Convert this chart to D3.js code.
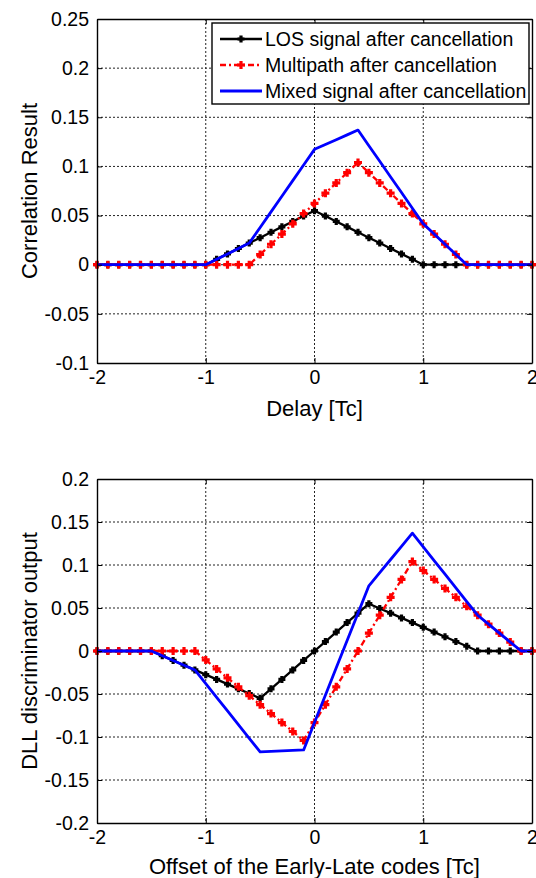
<!DOCTYPE html>
<html>
<head>
<meta charset="utf-8">
<script src="https://cdn.jsdelivr.net/npm/d3@7"></script>
<style>
  body { margin: 0; background: #fff; }
  svg { display: block; font-family: "Liberation Sans", Arial, sans-serif; }
</style>
</head>
<body>
<svg id="chart" width="536" height="878"></svg>
<script>
// delay / offset axis, in chips
const offsets = [-2, -1.9, -1.8, -1.7, -1.6, -1.5, -1.4, -1.3, -1.2, -1.1,
  -1, -0.9, -0.8, -0.7, -0.6, -0.5, -0.4, -0.3, -0.2, -0.1,
  0, 0.1, 0.2, 0.3, 0.4, 0.5, 0.6, 0.7, 0.8, 0.9,
  1, 1.1, 1.2, 1.3, 1.4, 1.5, 1.6, 1.7, 1.8, 1.9, 2];

// top panel: correlation results
const corrLos = [0, 0, 0, 0, 0, 0, 0, 0, 0, 0,
  0, 0.0055, 0.011, 0.0165, 0.022, 0.0275, 0.033, 0.0385, 0.044, 0.0495,
  0.055, 0.0495, 0.044, 0.0385, 0.033, 0.0275, 0.022, 0.0165, 0.011, 0.0055,
  0, 0, 0, 0, 0, 0, 0, 0, 0, 0, 0];
const corrMulti = [0, 0, 0, 0, 0, 0, 0, 0, 0, 0,
  0, 0, 0, 0, 0, 0.0104, 0.0208, 0.0312, 0.0416, 0.052,
  0.0624, 0.0728, 0.0832, 0.0936, 0.104, 0.0936, 0.0832, 0.0728, 0.0624, 0.052,
  0.0416, 0.0312, 0.0208, 0.0104, 0, 0, 0, 0, 0, 0, 0];
const corrMixed = [0, 0, 0, 0, 0, 0, 0, 0, 0, 0,
  0, 0.0055, 0.011, 0.0165, 0.022, 0.0379, 0.0538, 0.0697, 0.0856, 0.1015,
  0.1174, 0.1223, 0.1272, 0.1321, 0.137, 0.1211, 0.1052, 0.0893, 0.0734, 0.0575,
  0.0416, 0.0312, 0.0208, 0.0104, 0, 0, 0, 0, 0, 0, 0];

// bottom panel: DLL discriminator output
const dllLos = [0, 0, 0, 0, 0, 0, -0.0055, -0.011, -0.0165, -0.022,
  -0.0275, -0.033, -0.0385, -0.044, -0.0495, -0.055, -0.044, -0.033, -0.022, -0.011,
  0, 0.011, 0.022, 0.033, 0.044, 0.055, 0.0495, 0.044, 0.0385, 0.033,
  0.0275, 0.022, 0.0165, 0.011, 0.0055, 0, 0, 0, 0, 0, 0];
const dllMulti = [0, 0, 0, 0, 0, 0, 0, 0, 0, 0,
  -0.0104, -0.0208, -0.0312, -0.0416, -0.052, -0.0624, -0.0728, -0.0832, -0.0936, -0.104,
  -0.0832, -0.0624, -0.0416, -0.0208, 0, 0.0208, 0.0416, 0.0624, 0.0832, 0.104,
  0.0936, 0.0832, 0.0728, 0.0624, 0.052, 0.0416, 0.0312, 0.0208, 0.0104, 0, 0];
const dllMixed = [0, 0, 0, 0, 0, 0, -0.0055, -0.011, -0.0165, -0.022,
  -0.0379, -0.0538, -0.0697, -0.0856, -0.1015, -0.1174, -0.1168, -0.1162, -0.1156, -0.115,
  -0.0832, -0.0514, -0.0196, 0.0122, 0.044, 0.0758, 0.0911, 0.1064, 0.1217, 0.137,
  0.1211, 0.1052, 0.0893, 0.0734, 0.0575, 0.0416, 0.0312, 0.0208, 0.0104, 0, 0];

const xTicks = [-2, -1, 0, 1, 2];
const xTickLabels = ['-2', '-1', '0', '1', '2'];
const corrTicks = [-0.1, -0.05, 0, 0.05, 0.1, 0.15, 0.2, 0.25];
const corrTickLabels = ['-0.1', '-0.05', '0', '0.05', '0.1', '0.15', '0.2', '0.25'];
const dllTicks = [-0.2, -0.15, -0.1, -0.05, 0, 0.05, 0.1, 0.15, 0.2];
const dllTickLabels = ['-0.2', '-0.15', '-0.1', '-0.05', '0', '0.05', '0.1', '0.15', '0.2'];

const legendLabels = ['LOS signal after cancellation', 'Multipath after cancellation', 'Mixed signal after cancellation'];

const svg = d3.select('#chart');

const seriesStyle = [
  { color: '#000', width: 2.3, dash: null, marker: 3.5 },
  { color: '#ff0000', width: 2.3, dash: '6,3,2,3', marker: 4 },
  { color: '#0000ff', width: 2.8, dash: null, marker: 0 }
];

function plusPath(r) {
  return `M${-r},0H${r}M0,${-r}V${r}`;
}

function drawPanel(opt) {
  const { left, right, top, bottom } = opt;
  const x = d3.scaleLinear().domain([-2, 2]).range([left, right]);
  const y = d3.scaleLinear().domain(opt.yDomain).range([bottom, top]);
  const g = svg.append('g');

  // dotted grid
  g.append('g').selectAll('line')
    .data(xTicks.slice(1, -1))
    .join('line')
    .attr('x1', d => x(d)).attr('x2', d => x(d))
    .attr('y1', top).attr('y2', bottom)
    .attr('stroke', '#222').attr('stroke-width', 1)
    .attr('stroke-dasharray', '2,2');
  g.append('g').selectAll('line')
    .data(opt.yTicks.slice(1, -1))
    .join('line')
    .attr('x1', left).attr('x2', right)
    .attr('y1', d => y(d)).attr('y2', d => y(d))
    .attr('stroke', '#222').attr('stroke-width', 1)
    .attr('stroke-dasharray', '2,2');

  // series
  const line = d3.line().x((d, i) => x(offsets[i])).y(d => y(d));
  opt.series.forEach((vals, k) => {
    const st = seriesStyle[k];
    g.append('path')
      .datum(vals)
      .attr('d', line)
      .attr('fill', 'none')
      .attr('stroke', st.color)
      .attr('stroke-width', st.width)
      .attr('stroke-linejoin', 'round')
      .attr('stroke-dasharray', st.dash);
    if (st.marker) {
      g.append('g').selectAll('path')
        .data(vals)
        .join('path')
        .attr('transform', (d, i) => `translate(${x(offsets[i])},${y(d)})`)
        .attr('d', plusPath(st.marker))
        .attr('stroke', st.color)
        .attr('stroke-width', 3.2);
    }
  });

  // axes box and ticks
  const axB = d3.axisBottom(x).tickValues(xTicks).tickFormat((d, i) => xTickLabels[i]).tickSizeInner(-5).tickSizeOuter(0).tickPadding(7);
  const axT = d3.axisTop(x).tickValues(xTicks).tickFormat('').tickSizeInner(-5).tickSizeOuter(0);
  const axL = d3.axisLeft(y).tickValues(opt.yTicks).tickFormat((d, i) => opt.yTickLabels[i]).tickSizeInner(-5).tickSizeOuter(0).tickPadding(8);
  const axR = d3.axisRight(y).tickValues(opt.yTicks).tickFormat('').tickSizeInner(-5).tickSizeOuter(0);

  [[axB, `translate(0,${bottom})`], [axT, `translate(0,${top})`],
   [axL, `translate(${left},0)`], [axR, `translate(${right},0)`]].forEach(([ax, tr]) => {
    const a = g.append('g').attr('transform', tr).call(ax);
    a.select('.domain').attr('stroke', '#000').attr('stroke-width', 1.4);
    a.selectAll('.tick line').attr('stroke', '#000');
    a.selectAll('text').attr('font-size', 19.5).attr('fill', '#000')
      .attr('font-family', '"Liberation Sans", Arial, sans-serif');
  });

  // axis titles
  svg.append('text')
    .attr('x', (left + right) / 2).attr('y', opt.xLabelY)
    .attr('text-anchor', 'middle').attr('font-size', 22)
    .text(opt.xLabel);
  svg.append('text')
    .attr('transform', `translate(${opt.yLabelX},${(top + bottom) / 2}) rotate(-90)`)
    .attr('text-anchor', 'middle').attr('font-size', 22)
    .text(opt.yLabel);

  return { x, y };
}

drawPanel({
  left: 97, right: 532, top: 19, bottom: 363,
  yDomain: [-0.1, 0.25], yTicks: corrTicks, yTickLabels: corrTickLabels,
  series: [corrLos, corrMulti, corrMixed],
  xLabel: 'Delay [Tc]', xLabelY: 416,
  yLabel: 'Correlation Result', yLabelX: 37
});

drawPanel({
  left: 97, right: 532, top: 479, bottom: 823,
  yDomain: [-0.2, 0.2], yTicks: dllTicks, yTickLabels: dllTickLabels,
  series: [dllLos, dllMulti, dllMixed],
  xLabel: 'Offset of the Early-Late codes [Tc]', xLabelY: 874,
  yLabel: 'DLL discriminator output', yLabelX: 37
});

// legend in the top panel
const lg = svg.append('g').attr('transform', 'translate(212,23)');
lg.append('rect')
  .attr('width', 317).attr('height', 81)
  .attr('fill', '#fff').attr('stroke', '#000').attr('stroke-width', 1.4);
legendLabels.forEach((label, k) => {
  const st = seriesStyle[k];
  const cy = 16 + k * 26;
  lg.append('line')
    .attr('x1', 8).attr('x2', 50).attr('y1', cy).attr('y2', cy)
    .attr('stroke', st.color).attr('stroke-width', st.width)
    .attr('stroke-dasharray', st.dash);
  if (st.marker) {
    lg.append('path')
      .attr('transform', `translate(29,${cy})`)
      .attr('d', plusPath(st.marker))
      .attr('stroke', st.color).attr('stroke-width', 3.2);
  }
  lg.append('text')
    .attr('x', 53).attr('y', cy + 7)
    .attr('font-size', 19.5)
    .text(label);
});
</script>
</body>
</html>
